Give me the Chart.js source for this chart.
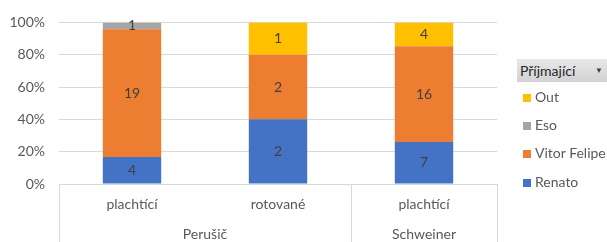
<!DOCTYPE html>
<html>
<head>
<meta charset="utf-8">
<script src="https://cdn.jsdelivr.net/npm/chart.js@4/dist/chart.umd.min.js"></script>
<style>
  html, body { margin: 0; padding: 0; background: #fff; }
  #wrap { position: relative; width: 607px; height: 242px; font-family: Lato, "Open Sans", sans-serif; color: #404040; }
  #legendTitle { position: absolute; left: 517px; top: 59px; width: 92px; height: 23px; background: linear-gradient(#e8e8e8, #d2d2d2); font-size: 14px; line-height: 23px; padding-left: 3px; box-sizing: border-box; color: #262626; }
  #legendTitle span.arrow { position: absolute; right: 6px; top: 0; font-size: 8px; color: #404040; }
  .item { position: absolute; left: 523px; font-size: 14px; line-height: 16px; color: #595959; white-space: nowrap; }
  .item i { display: inline-block; width: 8px; height: 8px; margin-right: 4px; vertical-align: 0px; }
</style>
</head>
<body>
<div id="wrap">
  <canvas id="chart" width="607" height="242"></canvas>
  <div id="legendTitle">Příjmající<span class="arrow">▼</span></div>
  <div id="legend"></div>
</div>
<script>
// kategorie (druh podání) a skupiny (podávající)
const categories = ['plachtící', 'rotované', 'plachtící'];
const groups = ['Perušič', 'Schweiner'];
const groupSpan = [2, 1];

// počty pro každého přijímajícího
const renato = [4, 2, 7];
const vitorFelipe = [19, 2, 16];
const eso = [1, 0, 0];
const out = [0, 1, 4];

const yTicks = ['0%', '20%', '40%', '60%', '80%', '100%'];

const seriesNames = ['Renato', 'Vitor Felipe', 'Eso', 'Out'];
const seriesColors = ['#4472C4', '#ED7D31', '#A5A5A5', '#FFC000'];
const counts = [renato, vitorFelipe, eso, out];

// součty pro 100% skládaný graf
const totals = categories.map((c, i) => counts.reduce((s, arr) => s + arr[i], 0));

const datasets = counts.map((arr, k) => ({
    label: seriesNames[k],
    data: arr.map((v, i) => v / totals[i] * 100),
    counts: arr,
    backgroundColor: seriesColors[k],
    categoryPercentage: 1,
    barPercentage: 0.4
}));

const FONT = 'Lato, "Open Sans", sans-serif';

// popisky hodnot uprostřed segmentů
const valueLabels = {
    id: 'valueLabels',
    afterDatasetsDraw(chart) {
        const ctx = chart.ctx;
        ctx.save();
        ctx.font = '14px ' + FONT;
        ctx.fillStyle = '#404040';
        ctx.textAlign = 'center';
        ctx.textBaseline = 'middle';
        chart.data.datasets.forEach((ds, di) => {
            chart.getDatasetMeta(di).data.forEach((bar, i) => {
                if (!ds.counts[i]) return;
                const mid = (bar.y + bar.base) / 2;
                ctx.fillText(ds.counts[i], bar.x, mid);
            });
        });
        ctx.restore();
    }
};

// dvouúrovňová osa x
const groupAxis = {
    id: 'groupAxis',
    afterDraw(chart) {
        const ctx = chart.ctx;
        const area = chart.chartArea;
        const step = (area.right - area.left) / categories.length;
        ctx.save();
        ctx.strokeStyle = '#D9D9D9';
        ctx.lineWidth = 1;
        ctx.beginPath();
        let idx = 0;
        const edges = [area.left];
        groupSpan.forEach(n => { idx += n; edges.push(area.left + idx * step); });
        edges.forEach(px => {
            const xx = Math.round(px) + 0.5;
            ctx.moveTo(xx, area.bottom);
            ctx.lineTo(xx, chart.height);
        });
        ctx.stroke();
        ctx.font = '14px ' + FONT;
        ctx.fillStyle = '#595959';
        ctx.textAlign = 'center';
        ctx.textBaseline = 'middle';
        groups.forEach((g, gi) => {
            ctx.fillText(g, (edges[gi] + edges[gi + 1]) / 2, area.bottom + 50);
        });
        ctx.restore();
    }
};

new Chart(document.getElementById('chart'), {
    type: 'bar',
    data: { labels: categories, datasets: datasets },
    options: {
        responsive: false,
        animation: false,
        layout: { padding: { top: 10, right: 110, left: 0, bottom: 0 } },
        scales: {
            x: {
                stacked: true,
                grid: { display: false, drawTicks: false },
                border: { color: '#D9D9D9' },
                ticks: { color: '#595959', font: { size: 14, family: FONT }, padding: 12, maxRotation: 0 },
                afterFit(scale) { scale.height = 58; }
            },
            y: {
                stacked: true,
                min: 0,
                max: 100,
                grid: { color: '#D9D9D9', drawTicks: false },
                border: { display: false },
                ticks: {
                    stepSize: 20,
                    color: '#595959',
                    font: { size: 14, family: FONT },
                    padding: 14,
                    callback: (v) => yTicks[v / 20]
                },
                afterFit(scale) { scale.width = 59; }
            }
        },
        plugins: {
            legend: { display: false },
            tooltip: { enabled: false }
        }
    },
    plugins: [valueLabels, groupAxis]
});

// legenda v pořadí jako v Excelu (odshora Out ... Renato)
const legendTops = [89, 117, 145, 174];
const legend = document.getElementById('legend');
[3, 2, 1, 0].forEach((k, n) => {
    const el = document.createElement('div');
    el.className = 'item';
    el.style.top = legendTops[n] + 'px';
    el.innerHTML = '<i style="background:' + seriesColors[k] + '"></i>' + seriesNames[k];
    legend.appendChild(el);
});
</script>
</body>
</html>
